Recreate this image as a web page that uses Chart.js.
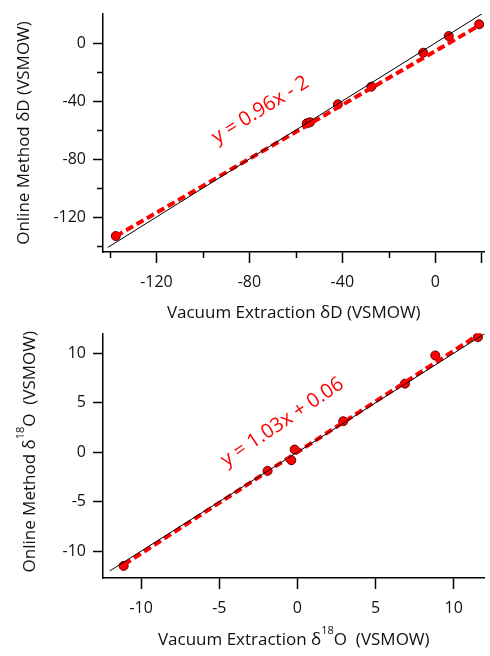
<!DOCTYPE html>
<html>
<head>
<meta charset="utf-8">
<script src="https://cdn.jsdelivr.net/npm/chart.js@4.4.1/dist/chart.umd.min.js"></script>
<style>
  html, body { margin: 0; padding: 0; background: #fff; }
  #wrap { position: relative; width: 490px; height: 656px; }
  canvas { position: absolute; left: 0; }
</style>
</head>
<body>
<div id="wrap">
  <canvas id="chartD" width="490" height="328" style="top:0px"></canvas>
  <canvas id="chartO" width="490" height="328" style="top:328px"></canvas>
</div>
<script>
// ---- deuterium panel ----
var dVacuum = [-137.5, -55.3, -53.9, -41.9, -27.5, -5.2, 5.8, 18.9];
var dOnline = [-133.1, -55.4, -54.7, -42.3, -30.1, -6.7, 4.8, 12.9];
var dFitX = [-137.5, 19.5];
var dFitY = [-133.3, 12.6];
var dOneToOne = [-141, 22];
var dXTicks = [-120, -80, -40, 0, 20];
var dXLabels = ["-120", "-80", "-40", "0", ""];
var dXMinor = [-140, -100, -60, -20];
var dYTicks = [-120, -80, -40, 0];
var dYLabels = ["-120", "-80", "-40", "0"];
var dYMinor = [-140, -100, -60, -20];

// ---- oxygen-18 panel ----
var oVacuum = [-11.12, -1.91, -0.39, -0.18, 2.93, 6.88, 8.82, 11.55];
var oOnline = [-11.5, -1.89, -0.81, 0.27, 3.13, 6.93, 9.78, 11.63];
var oFitX = [-11.1, 11.75];
var oFitY = [-11.37, 12.05];
var oOneToOne = [-12, 12.5];
var oXTicks = [-10, -5, 0, 5, 10];
var oXLabels = ["-10", "-5", "0", "5", "10"];
var oYTicks = [-10, -5, 0, 5, 10];
var oYLabels = ["-10", "-5", "0", "5", "10"];

var FONT = "'Open Sans', 'DejaVu Sans', sans-serif";

function pts(xs, ys) {
  return xs.map(function (x, i) { return { x: x, y: ys[i] }; });
}

// minor ticks, axis titles and the fit equation
var extras = {
  id: 'extras',
  afterDraw: function (chart, args, o) {
    var ctx = chart.ctx, xs = chart.scales.x, ys = chart.scales.y, a = chart.chartArea;
    ctx.save();
    ctx.strokeStyle = '#000';
    ctx.lineWidth = 1.5;
    (o.xMinor || []).forEach(function (v) {
      var px = Math.round(xs.getPixelForValue(v)) + 0.5;
      ctx.beginPath(); ctx.moveTo(px, a.bottom); ctx.lineTo(px, a.bottom + 6); ctx.stroke();
    });
    (o.yMinor || []).forEach(function (v) {
      var py = Math.round(ys.getPixelForValue(v)) + 0.5;
      ctx.beginPath(); ctx.moveTo(a.left, py); ctx.lineTo(a.left - 6, py); ctx.stroke();
    });

    // equation text
    ctx.fillStyle = '#ff0000';
    ctx.font = '20px ' + FONT;
    ctx.textAlign = 'center';
    ctx.textBaseline = 'middle';
    ctx.translate(xs.getPixelForValue(o.eq.x), ys.getPixelForValue(o.eq.y));
    ctx.rotate(o.eq.angle * Math.PI / 180);
    ctx.fillText(o.eq.text, 0, 0);
    ctx.restore();

    drawTitle(ctx, o.xTitle, (a.left + a.right) / 2, o.xTitleY, 0);
    drawTitle(ctx, o.yTitle, o.yTitleX, (a.top + a.bottom) / 2 + (o.yTitleShift || 0), -90);
  }
};

// segments: [text, isSuperscript]
function drawTitle(ctx, segs, cx, cy, angle) {
  ctx.save();
  ctx.fillStyle = '#111';
  ctx.textBaseline = 'middle';
  ctx.textAlign = 'left';
  var big = '17px ' + FONT, small = '11px ' + FONT;
  var w = 0;
  segs.forEach(function (s) { ctx.font = s[1] ? small : big; w += ctx.measureText(s[0]).width; });
  ctx.translate(cx, cy);
  ctx.rotate(angle * Math.PI / 180);
  var x = -w / 2;
  segs.forEach(function (s) {
    ctx.font = s[1] ? small : big;
    ctx.fillText(s[0], x, s[1] ? -9 : 0);
    x += ctx.measureText(s[0]).width;
  });
  ctx.restore();
}

function noPad(s) {
  s.paddingTop = 0; s.paddingBottom = 0; s.paddingLeft = 0; s.paddingRight = 0;
}

function makeChart(id, cfg) {
  new Chart(document.getElementById(id), {
    type: 'scatter',
    data: {
      datasets: [
        {
          label: '1:1',
          data: pts(cfg.oneToOne, cfg.oneToOne),
          showLine: true,
          borderColor: '#000',
          borderWidth: 1,
          pointRadius: 0,
          order: 0
        },
        {
          label: 'fit',
          data: pts(cfg.fitX, cfg.fitY),
          showLine: true,
          borderColor: '#ff0000',
          borderWidth: 4,
          borderDash: [8, 4],
          pointRadius: 0,
          order: 1
        },
        {
          label: 'samples',
          data: pts(cfg.vx, cfg.vy),
          backgroundColor: '#ff0000',
          borderColor: '#5a0000',
          borderWidth: 1,
          pointRadius: 4.5,
          order: 2
        }
      ]
    },
    plugins: [extras],
    options: {
      responsive: false,
      animation: false,
      layout: { padding: { top: cfg.padTop, left: 0, right: 0, bottom: 0 } },
      plugins: {
        legend: { display: false },
        tooltip: { enabled: false },
        extras: cfg.extras
      },
      scales: {
        x: {
          type: 'linear',
          min: cfg.xMin, max: cfg.xMax,
          afterFit: function (s) { s.height = cfg.xHeight; noPad(s); },
          afterBuildTicks: function (s) { s.ticks = cfg.xTicks.map(function (v) { return { value: v }; }); },
          ticks: {
            color: '#111',
            font: { family: FONT, size: 16 },
            padding: 10,
            maxRotation: 0,
            autoSkip: false,
            callback: function (v) { return cfg.xLabels[cfg.xTicks.indexOf(v)]; }
          },
          grid: { drawOnChartArea: false, drawTicks: true, tickLength: 11, tickWidth: 1.5, tickColor: '#000' },
          border: { display: true, color: '#000', width: 1.5 }
        },
        y: {
          type: 'linear',
          min: cfg.yMin, max: cfg.yMax,
          afterFit: function (s) { s.width = 103; noPad(s); },
          afterBuildTicks: function (s) { s.ticks = cfg.yTicks.map(function (v) { return { value: v }; }); },
          ticks: {
            color: '#111',
            font: { family: FONT, size: 16 },
            padding: 7,
            autoSkip: false,
            callback: function (v) { return cfg.yLabels[cfg.yTicks.indexOf(v)]; }
          },
          grid: { drawOnChartArea: false, drawTicks: true, tickLength: 10, tickWidth: 1.5, tickColor: '#000' },
          border: { display: true, color: '#000', width: 1.5 }
        }
      }
    }
  });
}

makeChart('chartD', {
  vx: dVacuum, vy: dOnline, fitX: dFitX, fitY: dFitY, oneToOne: dOneToOne,
  xMin: -143, xMax: 21.2, yMin: -144.1, yMax: 20,
  xTicks: dXTicks, xLabels: dXLabels, yTicks: dYTicks, yLabels: dYLabels,
  padTop: 14, xHeight: 76,
  extras: {
    xMinor: dXMinor, yMinor: dYMinor,
    eq: { text: 'y = 0.96x - 2', x: -75.2, y: -46.2, angle: -32 },
    xTitle: [['Vacuum Extraction \u03b4D (VSMOW)', false]], xTitleY: 313,
    yTitle: [['Online Method \u03b4D (VSMOW)', false]], yTitleX: 24
  }
});

makeChart('chartO', {
  vx: oVacuum, vy: oOnline, fitX: oFitX, fitY: oFitY, oneToOne: oOneToOne,
  xMin: -12.44, xMax: 11.97, yMin: -12.72, yMax: 12,
  xTicks: oXTicks, xLabels: oXLabels, yTicks: oYTicks, yLabels: oYLabels,
  padTop: 5, xHeight: 78,
  extras: {
    xMinor: [], yMinor: [],
    eq: { text: 'y = 1.03x + 0.06', x: -0.96, y: 3.03, angle: -34 },
    xTitle: [['Vacuum Extraction \u03b4', false], ['18', true], ['O  (VSMOW)', false]], xTitleY: 312,
    yTitle: [['Online Method \u03b4', false], ['18', true], ['O  (VSMOW)', false]], yTitleX: 30, yTitleShift: -4
  }
});
</script>
</body>
</html>
